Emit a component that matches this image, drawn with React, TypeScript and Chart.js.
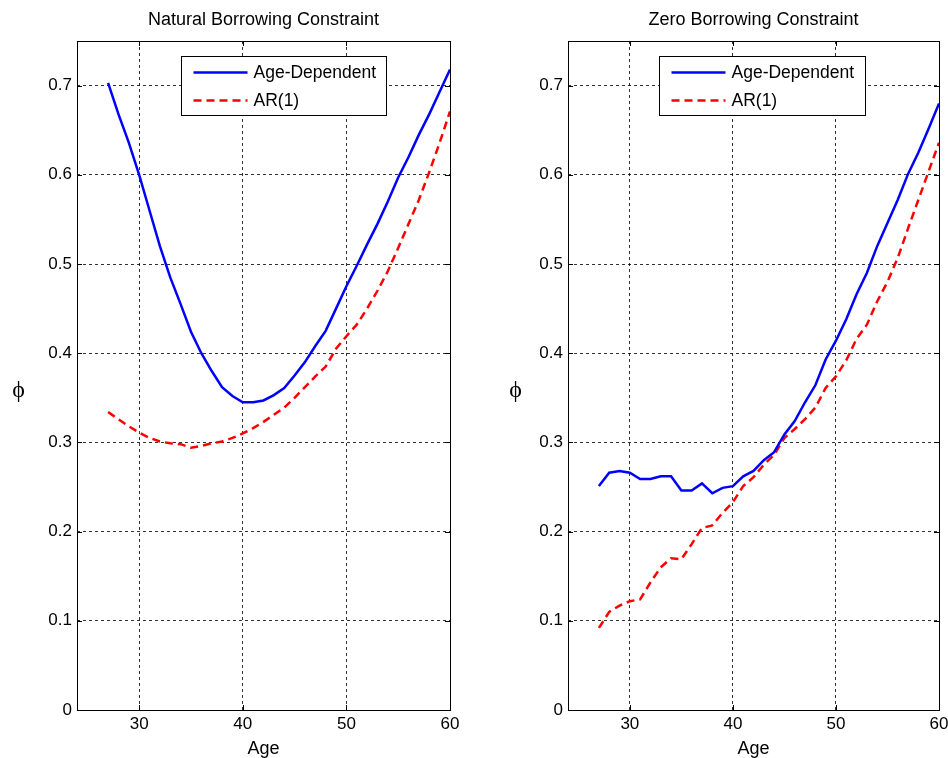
import React, { useEffect, useRef } from "react";
import { Chart, registerables } from "chart.js";

Chart.register(...registerables);

// ---------------- data ----------------
const AGES = [
  27, 28, 29, 30, 31, 32, 33, 34, 35, 36, 37, 38, 39, 40, 41, 42, 43, 44, 45, 46, 47,
  48, 49, 50, 51, 52, 53, 54, 55, 56, 57, 58, 59, 60,
];

const NATURAL_AGE_DEPENDENT = [
  0.703, 0.668, 0.636, 0.6, 0.56, 0.52, 0.485, 0.455, 0.424, 0.4, 0.38, 0.362, 0.352,
  0.345, 0.345, 0.347, 0.353, 0.361, 0.375, 0.39, 0.408, 0.425, 0.45, 0.475, 0.498,
  0.522, 0.545, 0.57, 0.597, 0.62, 0.645, 0.668, 0.693, 0.718,
];

const NATURAL_AR1 = [
  0.334, 0.326, 0.318, 0.311, 0.305, 0.301, 0.299, 0.298, 0.294, 0.296, 0.299, 0.301,
  0.305, 0.31, 0.316, 0.323, 0.331, 0.339, 0.35, 0.362, 0.374, 0.385, 0.405, 0.419,
  0.432, 0.45, 0.47, 0.492, 0.518, 0.545, 0.572, 0.603, 0.636, 0.671,
];

const ZERO_AGE_DEPENDENT = [
  0.251, 0.266, 0.268, 0.266, 0.259, 0.259, 0.262, 0.262, 0.246, 0.246, 0.254, 0.243,
  0.249, 0.251, 0.262, 0.268, 0.28, 0.289, 0.309, 0.324, 0.345, 0.364, 0.393, 0.414,
  0.438, 0.466, 0.49, 0.52, 0.546, 0.572, 0.601, 0.625, 0.652, 0.68,
];

const ZERO_AR1 = [
  0.092, 0.11, 0.117, 0.122, 0.124, 0.143, 0.16, 0.17, 0.169, 0.186, 0.204, 0.207,
  0.221, 0.233, 0.251, 0.261, 0.275, 0.286, 0.305, 0.315, 0.326, 0.339, 0.361, 0.374,
  0.392, 0.416, 0.432, 0.458, 0.48, 0.507, 0.54, 0.572, 0.604, 0.636,
];

const X_TICKS = [30, 40, 50, 60];
const X_TICK_LABELS = ["30", "40", "50", "60"];
const Y_TICKS = [0, 0.1, 0.2, 0.3, 0.4, 0.5, 0.6, 0.7];
const Y_TICK_LABELS = ["0", "0.1", "0.2", "0.3", "0.4", "0.5", "0.6", "0.7"];
const X_MIN = 24;
const X_MAX = 60;
const Y_MIN = 0;
const Y_MAX = 0.75;

const SERIES_LABELS = ["Age-Dependent", "AR(1)"];
const TITLES = ["Natural Borrowing Constraint", "Zero Borrowing Constraint"];
const X_TITLE = "Age";
const Y_TITLE = "\u03D5";

// ---------------- styling ----------------
const FONT = "'Liberation Sans', Arial, Helvetica, sans-serif";
const FONT_SIZE = 17;
const TITLE_SIZE = 18;
const LEGEND_SIZE = 17.5;
const BLUE = "#0000ff";
const RED = "#ff0000";
const RED_DASH = [8, 5];

type PanelProps = {
  left: number;
  width: number;
  title: string;
  ageDep: number[];
  ar1: number[];
  yAxisWidth: number;
  rightPad: number;
  legendOffsetX: number;
  legendWidth: number;
  phiX: number;
};

function makeFramePlugin(p: PanelProps) {
  return {
    id: "frame",
    afterDraw(chart: any) {
      const ctx = chart.ctx as CanvasRenderingContext2D;
      const a = chart.chartArea;
      const xs = chart.scales.x;
      const ys = chart.scales.y;
      ctx.save();
      // inward tick marks
      ctx.strokeStyle = "#000";
      ctx.lineWidth = 1;
      ctx.setLineDash([]);
      ctx.beginPath();
      X_TICKS.forEach((v) => {
        const x = Math.round(xs.getPixelForValue(v)) + 0.5;
        ctx.moveTo(x, a.bottom);
        ctx.lineTo(x, a.bottom - 5);
        ctx.moveTo(x, a.top);
        ctx.lineTo(x, a.top + 5);
      });
      Y_TICKS.forEach((v) => {
        const y = Math.round(ys.getPixelForValue(v)) + 0.5;
        ctx.moveTo(a.left, y);
        ctx.lineTo(a.left + 5, y);
        ctx.moveTo(a.right, y);
        ctx.lineTo(a.right - 5, y);
      });
      ctx.stroke();
      // frame
      ctx.strokeRect(
        Math.round(a.left) + 0.5,
        Math.round(a.top) + 0.5,
        Math.round(a.right - a.left),
        Math.round(a.bottom - a.top)
      );

      // legend
      const bx = Math.round(a.left + p.legendOffsetX) + 0.5;
      const by = Math.round(a.top + 15) + 0.5;
      const bw = p.legendWidth;
      const bh = 59;
      ctx.fillStyle = "#fff";
      ctx.fillRect(bx, by, bw, bh);
      ctx.strokeStyle = "#000";
      ctx.lineWidth = 1;
      ctx.strokeRect(bx, by, bw, bh);
      const rows = [
        { y: by + 16, color: BLUE, dash: [] as number[], label: SERIES_LABELS[0] },
        { y: by + 44, color: RED, dash: RED_DASH, label: SERIES_LABELS[1] },
      ];
      rows.forEach((r) => {
        ctx.beginPath();
        ctx.strokeStyle = r.color;
        ctx.lineWidth = 2.5;
        ctx.setLineDash(r.dash);
        ctx.moveTo(bx + 12, r.y);
        ctx.lineTo(bx + 66, r.y);
        ctx.stroke();
        ctx.setLineDash([]);
        ctx.fillStyle = "#000";
        ctx.font = `${LEGEND_SIZE}px ${FONT}`;
        ctx.textAlign = "left";
        ctx.textBaseline = "middle";
        ctx.fillText(r.label, bx + 72, r.y + 1);
      });

      // title
      const cx = (a.left + a.right) / 2;
      ctx.fillStyle = "#000";
      ctx.font = `${TITLE_SIZE}px ${FONT}`;
      ctx.textAlign = "center";
      ctx.textBaseline = "alphabetic";
      ctx.fillText(p.title, cx, 25);
      // x title
      ctx.font = `${TITLE_SIZE}px ${FONT}`;
      ctx.fillText(X_TITLE, cx, 754);
      // y title
      ctx.font = `24px 'Liberation Serif', 'DejaVu Serif', serif`;
      ctx.textBaseline = "middle";
      ctx.fillText(Y_TITLE, p.phiX, 391);
      ctx.restore();
    },
  };
}

function Panel(p: PanelProps) {
  const ref = useRef<HTMLCanvasElement>(null);
  useEffect(() => {
    if (!ref.current) return;
    const chart = new Chart(ref.current, {
      type: "line",
      data: {
        datasets: [
          {
            label: SERIES_LABELS[0],
            data: AGES.map((a, i) => ({ x: a, y: p.ageDep[i] })),
            borderColor: BLUE,
            borderWidth: 2.5,
            pointRadius: 0,
            fill: false,
            tension: 0,
          },
          {
            label: SERIES_LABELS[1],
            data: AGES.map((a, i) => ({ x: a, y: p.ar1[i] })),
            borderColor: RED,
            borderWidth: 2.5,
            borderDash: RED_DASH,
            pointRadius: 0,
            fill: false,
            tension: 0,
          },
        ],
      },
      options: {
        responsive: false,
        animation: false,
        events: [],
        layout: { padding: { left: 0, top: 41, right: p.rightPad, bottom: 0 } },
        plugins: {
          legend: { display: false },
          tooltip: { enabled: false },
          title: { display: false },
        },
        scales: {
          x: {
            type: "linear",
            min: X_MIN,
            max: X_MAX,
            afterBuildTicks: (s: any) => {
              s.ticks = X_TICKS.map((v) => ({ value: v }));
            },
            afterFit: (s: any) => {
              s.height = 48;
              s.paddingLeft = 0;
              s.paddingRight = 0;
            },
            grid: { color: "rgba(0,0,0,0.8)", lineWidth: 1, drawTicks: false },
            border: { display: false, dash: [3, 3] },
            ticks: {
              padding: 4,
              color: "#000",
              maxRotation: 0,
              font: { family: FONT, size: FONT_SIZE },
              callback: (v: any) => X_TICK_LABELS[X_TICKS.indexOf(Number(v))] ?? "",
            },
          },
          y: {
            type: "linear",
            min: Y_MIN,
            max: Y_MAX,
            afterBuildTicks: (s: any) => {
              s.ticks = Y_TICKS.map((v) => ({ value: v }));
            },
            afterFit: (s: any) => {
              s.width = p.yAxisWidth;
              s.paddingTop = 0;
              s.paddingBottom = 0;
            },
            grid: { color: "rgba(0,0,0,0.8)", lineWidth: 1, drawTicks: false },
            border: { display: false, dash: [3, 3] },
            ticks: {
              padding: 5,
              color: "#000",
              font: { family: FONT, size: FONT_SIZE },
              callback: (v: any) => {
                const i = Y_TICKS.findIndex((t) => Math.abs(t - Number(v)) < 1e-9);
                return i >= 0 ? Y_TICK_LABELS[i] : "";
              },
            },
          },
        },
      },
      plugins: [makeFramePlugin(p)],
    } as any);
    return () => chart.destroy();
  }, []);
  return (
    <canvas
      ref={ref}
      width={p.width}
      height={758}
      style={{ position: "absolute", left: p.left, top: 0, width: p.width, height: 758 }}
    />
  );
}

export default function App() {
  return (
    <div
      style={{
        position: "fixed",
        left: 0,
        top: 0,
        width: 948,
        height: 758,
        background: "#fff",
        overflow: "hidden",
      }}
    >
      <Panel
        left={0}
        width={474}
        title={TITLES[0]}
        ageDep={NATURAL_AGE_DEPENDENT}
        ar1={NATURAL_AR1}
        yAxisWidth={77}
        rightPad={24}
        legendOffsetX={104}
        legendWidth={205}
        phiX={18.5}
      />
      <Panel
        left={474}
        width={474}
        title={TITLES[1]}
        ageDep={ZERO_AGE_DEPENDENT}
        ar1={ZERO_AR1}
        yAxisWidth={94}
        rightPad={9}
        legendOffsetX={91}
        legendWidth={206}
        phiX={41.5}
      />
    </div>
  );
}
